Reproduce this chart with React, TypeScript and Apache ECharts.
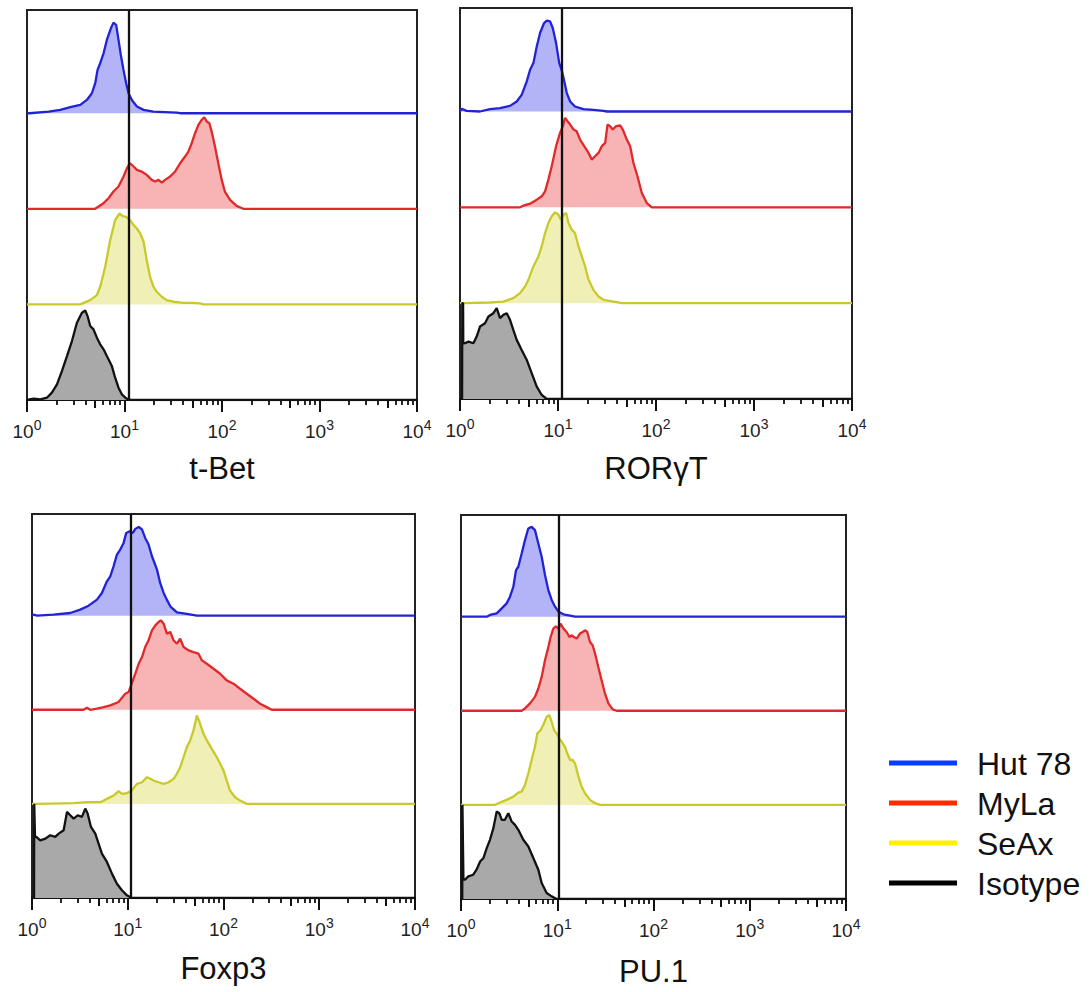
import React, { useEffect, useRef } from 'react';
import * as echarts from 'echarts';

// ---------- DATA (x = fluorescence intensity, y = relative count per lane) ----------
const panelTitles = ['t-Bet', 'RORγT', 'Foxp3', 'PU.1'];
const laneNames = ['Hut 78', 'MyLa', 'SeAx', 'Isotype'];
const gateValues = [11.1, 11.0, 10.8, 10.4];
const majorTicks = [1, 10, 100, 1000, 10000];
const tickExponents = ['0', '1', '2', '3', '4'];
const mediumTicks = [5, 50, 500, 5000];
const minorTicks = [
  2, 3, 4, 6, 7, 8, 9,
  20, 30, 40, 60, 70, 80, 90,
  200, 300, 400, 600, 700, 800, 900,
  2000, 3000, 4000, 6000, 7000, 8000, 9000,
];

type P = [number, number][];

const tbetHut78: P = [[1,0],[1.06,0],[1.67,0.017],[2.19,0.035],[2.78,0.063],[3.52,0.087],[4.11,0.139],[4.63,0.209],[5.01,0.314],[5.29,0.453],[5.63,0.523],[6.10,0.627],[6.59,0.767],[7.25,0.889],[7.71,0.948],[8.22,0.923],[8.68,0.767],[9.17,0.61],[9.77,0.453],[10.4,0.314],[11.0,0.209],[11.9,0.139],[13.4,0.07],[15.7,0.035],[19.8,0.017],[34.3,0.007],[37.2,0],[10000,0]];
const tbetMyLa: P = [[1,0],[5.0,0],[5.42,0.024],[6.10,0.059],[6.86,0.111],[7.71,0.181],[8.68,0.233],[9.77,0.338],[10.6,0.425],[11.4,0.477],[12.4,0.443],[13.4,0.408],[15.0,0.39],[16.9,0.355],[19.0,0.303],[20.6,0.286],[22.3,0.303],[24.1,0.275],[26.1,0.303],[29.4,0.338],[33.0,0.39],[37.2,0.477],[41.8,0.547],[45.2,0.599],[48.9,0.686],[52.9,0.791],[57.3,0.878],[61.9,0.93],[65.9,0.958],[69.7,0.913],[74.2,0.895],[78.3,0.808],[84.7,0.652],[91.6,0.477],[99.3,0.303],[107,0.181],[121,0.094],[141,0.031],[165,0],[10000,0]];
const tbetSeAx: P = [[1,0],[3.52,0],[4.45,0.045],[5.21,0.098],[5.63,0.185],[6.34,0.394],[7.13,0.672],[8.02,0.882],[8.89,0.951],[9.61,0.923],[10.4,0.916],[11.4,0.882],[12.4,0.829],[13.4,0.794],[14.5,0.742],[15.7,0.655],[16.9,0.463],[18.3,0.289],[19.8,0.185],[21.4,0.132],[24.1,0.08],[27.1,0.045],[31.8,0.028],[40.2,0.017],[50.9,0.017],[59.6,0.01],[64.4,0],[10000,0]];
const tbetIsotype: P = [[1,0],[1.06,0.007],[1.17,0.014],[1.37,0.007],[1.60,0.024],[1.80,0.077],[2.03,0.164],[2.28,0.303],[2.57,0.46],[2.89,0.617],[3.25,0.808],[3.66,0.913],[3.96,0.937],[4.18,0.878],[4.45,0.774],[4.81,0.739],[5.21,0.652],[5.63,0.582],[6.10,0.53],[6.59,0.46],[7.42,0.355],[8.02,0.233],[8.68,0.129],[9.39,0.059],[10.4,0.017],[11.4,0],[10000,0]];

const rorHut78: P = [[1,0],[1.04,0.028],[1.17,0.007],[1.60,0],[2.02,0.024],[2.56,0.035],[3.24,0.059],[3.79,0.105],[4.26,0.174],[4.80,0.314],[5.19,0.436],[5.61,0.505],[6.07,0.679],[6.56,0.819],[7.21,0.923],[7.68,0.948],[8.30,0.941],[8.84,0.871],[9.56,0.714],[10.3,0.505],[11.0,0.418],[11.5,0.331],[12.3,0.192],[13.3,0.105],[14.9,0.052],[18.2,0.024],[23.0,0.017],[29.1,0.007],[31.5,0],[10000,0]];
const rorMyLa: P = [[1,0],[4.10,0],[4.43,0.017],[5.19,0.038],[6.07,0.08],[6.82,0.115],[7.38,0.167],[7.98,0.289],[8.63,0.429],[9.56,0.638],[10.5,0.777],[11.2,0.847],[11.8,0.934],[12.5,0.899],[13.3,0.864],[14.4,0.812],[15.5,0.794],[16.8,0.707],[18.5,0.638],[20.5,0.568],[22.1,0.498],[23.9,0.533],[25.9,0.568],[28.0,0.638],[30.3,0.672],[32.0,0.864],[34.0,0.847],[36.2,0.812],[39.2,0.847],[43.1,0.854],[45.8,0.812],[50.4,0.707],[54.5,0.638],[58.9,0.463],[64.7,0.324],[71.6,0.15],[80.6,0.045],[90.7,0],[10000,0]];
const rorSeAx: P = [[1,0],[1.12,0],[2.02,0.007],[2.77,0.017],[3.50,0.052],[4.10,0.105],[4.61,0.174],[4.99,0.244],[5.61,0.383],[6.31,0.488],[6.82,0.592],[7.38,0.732],[7.98,0.836],[8.63,0.906],[9.34,0.948],[10.1,0.923],[10.7,0.871],[11.4,0.923],[12.1,0.941],[12.8,0.836],[13.8,0.767],[14.9,0.732],[16.2,0.592],[17.5,0.488],[18.9,0.383],[20.5,0.244],[23.0,0.139],[25.9,0.07],[29.1,0.035],[36.8,0.017],[44.8,0],[10000,0]];
const rorIsotype: P = [[1,0],[1.05,0],[1.055,1.0],[1.075,1.0],[1.08,0.58],[1.12,0.582],[1.22,0.599],[1.37,0.582],[1.48,0.652],[1.60,0.756],[1.80,0.791],[1.95,0.861],[2.19,0.895],[2.37,0.948],[2.56,0.843],[2.77,0.878],[3.00,0.895],[3.24,0.826],[3.50,0.721],[3.79,0.617],[4.26,0.512],[4.80,0.408],[5.40,0.268],[6.07,0.129],[6.82,0.042],[7.68,0],[10000,0]];

const foxHut78: P = [[1,0],[1.04,0.011],[1.13,0],[1.68,0.011],[2.51,0.028],[3.19,0.064],[3.90,0.106],[4.77,0.17],[5.37,0.241],[6.06,0.365],[6.57,0.418],[7.11,0.525],[7.71,0.649],[8.35,0.702],[9.05,0.773],[9.64,0.879],[10.5,0.897],[11.3,0.879],[12.0,0.922],[13.0,0.943],[14.1,0.915],[15.2,0.826],[16.5,0.755],[17.9,0.631],[20.2,0.489],[21.8,0.348],[23.7,0.241],[25.6,0.17],[27.8,0.099],[32.6,0.035],[41.4,0.018],[52.7,0],[10000,0]];
const foxMyLa: P = [[1,0],[3.46,0],[3.75,0.021],[4.06,0],[4.77,0.011],[5.60,0.028],[6.57,0.046],[8.02,0.082],[9.42,0.17],[10.2,0.188],[11.0,0.277],[12.0,0.383],[13.0,0.489],[14.1,0.56],[15.2,0.667],[16.5,0.738],[17.9,0.844],[19.4,0.897],[21.0,0.933],[22.2,0.95],[23.7,0.915],[25.6,0.809],[27.8,0.826],[30.1,0.738],[32.6,0.702],[35.3,0.755],[38.3,0.667],[43.1,0.631],[48.6,0.613],[54.8,0.596],[59.4,0.525],[67.0,0.489],[78.7,0.436],[92.3,0.383],[108,0.312],[127,0.277],[149,0.223],[175,0.17],[206,0.117],[241,0.064],[283,0.028],[319,0],[10000,0]];
const foxSeAx: P = [[1,0],[1.13,0],[2.72,0.007],[3.75,0.018],[5.17,0.018],[6.06,0.053],[7.11,0.089],[8.02,0.135],[8.69,0.106],[9.80,0.113],[11.0,0.142],[12.5,0.213],[14.1,0.23],[15.9,0.284],[17.2,0.266],[18.6,0.248],[21.0,0.23],[23.7,0.213],[26.7,0.23],[30.1,0.266],[32.6,0.319],[35.3,0.39],[38.3,0.496],[41.4,0.603],[44.9,0.674],[48.6,0.78],[52.7,0.94],[56.2,0.869],[61.8,0.745],[67.0,0.674],[75.5,0.585],[85.2,0.496],[92.3,0.426],[100,0.355],[108,0.248],[117,0.142],[132,0.071],[149,0.035],[175,0],[10000,0]];
const foxIsotype: P = [[1,0],[1.05,0],[1.055,1.0],[1.07,1.0],[1.075,0.649],[1.11,0.649],[1.22,0.613],[1.38,0.631],[1.55,0.667],[1.75,0.649],[1.90,0.684],[2.14,0.72],[2.32,0.915],[2.51,0.879],[2.72,0.844],[3.00,0.879],[3.32,0.862],[3.60,0.95],[3.81,0.897],[4.13,0.755],[4.58,0.684],[4.96,0.578],[5.37,0.472],[6.06,0.383],[6.84,0.259],[7.71,0.152],[8.69,0.082],[9.80,0.028],[11.0,0],[10000,0]];

const puHut78: P = [[1,0],[1.85,0],[2.00,0.018],[2.35,0.035],[2.65,0.088],[2.98,0.141],[3.23,0.212],[3.50,0.318],[3.73,0.495],[3.94,0.53],[4.27,0.671],[4.62,0.813],[5.00,0.936],[5.42,0.954],[5.87,0.919],[6.36,0.777],[6.89,0.636],[7.46,0.442],[8.08,0.283],[8.75,0.177],[9.48,0.106],[10.3,0.053],[11.6,0.025],[13.6,0.011],[15.3,0],[10000,0]];
const puMyLa: P = [[1,0],[4.27,0],[4.62,0.025],[5.21,0.078],[5.87,0.148],[6.36,0.237],[6.89,0.36],[7.46,0.537],[8.08,0.678],[8.54,0.784],[9.10,0.873],[9.70,0.898],[10.3,0.873],[10.8,0.926],[11.6,0.873],[12.5,0.837],[13.4,0.784],[14.1,0.802],[14.9,0.784],[15.9,0.767],[17.2,0.82],[18.4,0.837],[19.4,0.855],[20.5,0.837],[21.9,0.731],[23.3,0.696],[24.7,0.608],[26.7,0.466],[28.9,0.325],[31.3,0.184],[34.0,0.078],[37.7,0.014],[41.4,0],[10000,0]];
const puSeAx: P = [[1,0],[2.25,0],[2.54,0.025],[2.98,0.053],[3.50,0.088],[3.94,0.131],[4.27,0.141],[4.62,0.212],[5.01,0.336],[5.42,0.477],[5.87,0.618],[6.21,0.76],[6.73,0.795],[7.28,0.866],[7.76,0.936],[8.28,0.954],[8.75,0.883],[9.25,0.795],[9.86,0.76],[10.5,0.707],[11.1,0.671],[12.0,0.618],[12.7,0.548],[13.6,0.477],[14.5,0.477],[15.3,0.442],[16.6,0.3],[17.9,0.194],[19.4,0.124],[21.9,0.053],[24.7,0.018],[27.8,0],[10000,0]];
const puIsotype: P = [[1,0],[1.03,0],[1.035,1.0],[1.05,1.0],[1.06,0.205],[1.10,0.205],[1.19,0.24],[1.34,0.258],[1.45,0.311],[1.58,0.399],[1.71,0.435],[1.85,0.541],[2.00,0.629],[2.17,0.753],[2.35,0.929],[2.50,0.912],[2.65,0.841],[2.86,0.841],[3.10,0.912],[3.36,0.823],[3.64,0.788],[3.94,0.735],[4.44,0.629],[5.01,0.558],[5.64,0.435],[6.36,0.311],[6.89,0.17],[7.76,0.064],[8.75,0.028],[9.86,0],[10000,0]];

const panelData: P[][] = [
  [tbetHut78, tbetMyLa, tbetSeAx, tbetIsotype],
  [rorHut78, rorMyLa, rorSeAx, rorIsotype],
  [foxHut78, foxMyLa, foxSeAx, foxIsotype],
  [puHut78, puMyLa, puSeAx, puIsotype],
];

// ---------- STYLE / LAYOUT ----------
const FONT = '"Liberation Sans", Arial, Helvetica, sans-serif';
const laneOffsets = [3, 2, 1, 0];
const lineColors = ['#2323d6', '#e0292b', '#c9c92c', '#111111'];
const fillColors = ['#b3b3f7', '#f8b4b4', '#f0f0b6', '#a9a9a9'];
const legendColors = ['#0a3cff', '#ff2a00', '#fff000', '#000000'];
const Y_MAX = 4.08;
const grids = [
  { left: 27, top: 10, width: 390, height: 390 },
  { left: 460, top: 8, width: 392, height: 391 },
  { left: 32, top: 514, width: 383, height: 384 },
  { left: 461, top: 515, width: 385, height: 384 },
];
const nameGaps = [53, 54, 55, 57];

function buildOption() {
  const grid = grids.map((g) => ({
    ...g,
    show: true,
    borderColor: '#222',
    borderWidth: 2,
    backgroundColor: 'transparent',
    containLabel: false,
  }));

  const xAxis: any[] = [];
  const yAxis: any[] = [];
  grids.forEach((_, p) => {
    xAxis.push({
      type: 'log', logBase: 10, gridIndex: p, min: 1, max: 10000, position: 'bottom',
      axisLine: { show: true, onZero: false, lineStyle: { color: '#111', width: 2.2 } },
      axisTick: { show: true, inside: false, length: 12, customValues: majorTicks, lineStyle: { color: '#111', width: 2 } },
      axisLabel: {
        show: true, customValues: majorTicks, margin: 18,
        fontSize: 19, fontFamily: FONT, color: '#222',
        formatter: (v: number) => `{b|10}{s|${tickExponents[Math.round(Math.log10(v))]}}`,
        rich: {
          b: { fontSize: 19, fontFamily: FONT, color: '#222', lineHeight: 26 },
          s: { fontSize: 14, fontFamily: FONT, color: '#222', lineHeight: 16, verticalAlign: 'top' },
        },
      },
      splitLine: { show: false },
      name: panelTitles[p], nameLocation: 'middle', nameGap: nameGaps[p],
      nameTextStyle: { fontSize: 31, fontFamily: FONT, color: '#111' },
    });
    xAxis.push({
      type: 'log', logBase: 10, gridIndex: p, min: 1, max: 10000, position: 'bottom',
      axisLine: { show: false, onZero: false },
      axisTick: { show: true, inside: false, length: 8, customValues: mediumTicks, lineStyle: { color: '#111', width: 2 } },
      axisLabel: { show: false }, splitLine: { show: false },
    });
    xAxis.push({
      type: 'log', logBase: 10, gridIndex: p, min: 1, max: 10000, position: 'bottom',
      axisLine: { show: false, onZero: false },
      axisTick: { show: true, inside: false, length: 5, customValues: minorTicks, lineStyle: { color: '#111', width: 1.8 } },
      axisLabel: { show: false }, splitLine: { show: false },
    });
    yAxis.push({ type: 'value', gridIndex: p, min: 0, max: Y_MAX, show: false });
  });

  const series: any[] = [];
  panelData.forEach((lanes, p) => {
    lanes.forEach((pts, j) => {
      const off = laneOffsets[j];
      const s: any = {
        type: 'line', name: laneNames[j], xAxisIndex: p * 3, yAxisIndex: p,
        data: pts.map(([x, h]) => [x, h + off]),
        showSymbol: false, symbol: 'none', smooth: false, silent: true,
        lineStyle: { color: lineColors[j], width: 2.3 },
        itemStyle: { color: lineColors[j] },
        areaStyle: { color: fillColors[j], opacity: 1, origin: off },
        z: 2,
      };
      if (j === 3) {
        s.markLine = {
          silent: true, symbol: ['none', 'none'], label: { show: false },
          lineStyle: { color: '#111', width: 2.3, type: 'solid' },
          data: [{ xAxis: gateValues[p] }],
        };
      }
      series.push(s);
    });
  });

  const graphic: any[] = [];
  laneNames.forEach((name, i) => {
    const cy = 763 + i * 40;
    graphic.push({ type: 'rect', shape: { x: 889, y: cy - 2.5, width: 68, height: 5 }, style: { fill: legendColors[i] } });
    graphic.push({
      type: 'text', x: 977, y: cy + 1,
      style: { text: name, fontSize: 32, fontFamily: FONT, fill: '#111', align: 'left', verticalAlign: 'middle' },
    });
  });

  return { animation: false, backgroundColor: '#ffffff', grid, xAxis, yAxis, series, graphic };
}

export default function App() {
  const ref = useRef<HTMLDivElement>(null);
  useEffect(() => {
    if (!ref.current) return;
    const chart = echarts.init(ref.current, null, { renderer: 'svg' });
    chart.setOption(buildOption() as any);
    return () => chart.dispose();
  }, []);
  return <div ref={ref} style={{ position: 'absolute', left: 0, top: 0, width: 1090, height: 992, background: '#fff' }} />;
}
